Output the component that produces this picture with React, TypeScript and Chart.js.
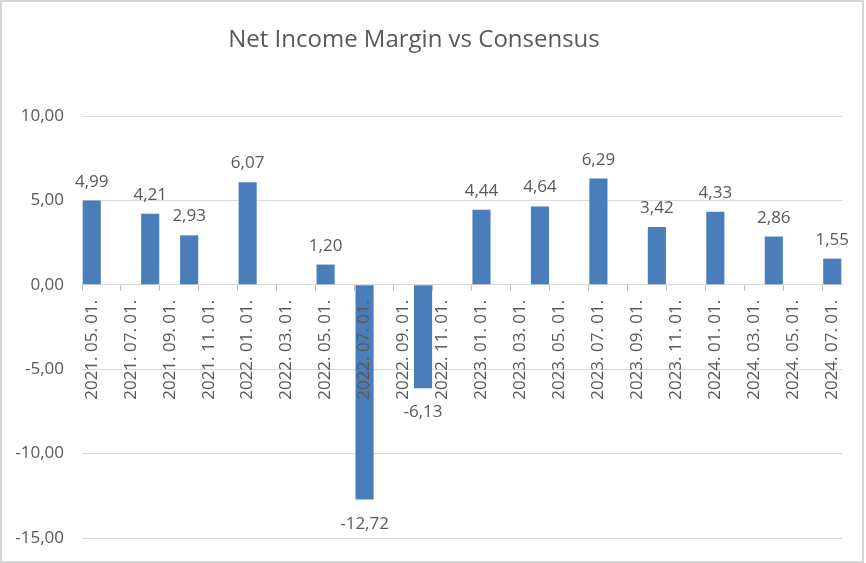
import React, { useEffect, useRef } from 'react';
import { Chart, registerables } from 'chart.js';

Chart.register(...registerables);

const chartTitle = 'Net Income Margin vs Consensus';

const months = [
  '2021. 05. 01.', '2021. 06. 01.', '2021. 07. 01.', '2021. 08. 01.', '2021. 09. 01.', '2021. 10. 01.',
  '2021. 11. 01.', '2021. 12. 01.', '2022. 01. 01.', '2022. 02. 01.', '2022. 03. 01.', '2022. 04. 01.',
  '2022. 05. 01.', '2022. 06. 01.', '2022. 07. 01.', '2022. 08. 01.', '2022. 09. 01.', '2022. 10. 01.',
  '2022. 11. 01.', '2022. 12. 01.', '2023. 01. 01.', '2023. 02. 01.', '2023. 03. 01.', '2023. 04. 01.',
  '2023. 05. 01.', '2023. 06. 01.', '2023. 07. 01.', '2023. 08. 01.', '2023. 09. 01.', '2023. 10. 01.',
  '2023. 11. 01.', '2023. 12. 01.', '2024. 01. 01.', '2024. 02. 01.', '2024. 03. 01.', '2024. 04. 01.',
  '2024. 05. 01.', '2024. 06. 01.', '2024. 07. 01.',
];

const margin: (number | null)[] = [
  4.99, null, null, 4.21, null, 2.93,
  null, null, 6.07, null, null, null,
  1.20, null, -12.72, null, null, -6.13,
  null, null, 4.44, null, null, 4.64,
  null, null, 6.29, null, null, 3.42,
  null, null, 4.33, null, null, 2.86,
  null, null, 1.55,
];

const yMin = -15;
const yMax = 10;
const yStep = 5;

const FONT = "'Open Sans', 'DejaVu Sans', sans-serif";
const TEXT = '#595959';
const GRID = '#d9d9d9';
const BAR = '#4a7ebb';

const fmt = (v: number) => v.toFixed(2).replace('.', ',');

export default function App() {
  const ref = useRef<HTMLCanvasElement | null>(null);

  useEffect(() => {
    if (!ref.current) return;

    const framePlugin = {
      id: 'frame',
      beforeDraw(chart: any) {
        const { ctx, width, height } = chart;
        ctx.save();
        ctx.fillStyle = '#ffffff';
        ctx.fillRect(0, 0, width, height);
        ctx.strokeStyle = '#d6d6d6';
        ctx.lineWidth = 2;
        ctx.strokeRect(1, 1, 862, 561);
        ctx.fillStyle = TEXT;
        ctx.font = `24px ${FONT}`;
        ctx.textAlign = 'center';
        ctx.textBaseline = 'alphabetic';
        ctx.fillText(chartTitle, 414, 47);
        ctx.restore();
      },
    };

    const labelPlugin = {
      id: 'valueLabels',
      afterDraw(chart: any) {
        const { ctx } = chart;
        const meta = chart.getDatasetMeta(0);
        ctx.save();
        ctx.fillStyle = TEXT;
        ctx.font = `17px ${FONT}`;
        ctx.textAlign = 'center';
        ctx.textBaseline = 'alphabetic';
        meta.data.forEach((bar: any, i: number) => {
          const v = margin[i];
          if (v === null || v === undefined) return;
          if (v >= 0) {
            ctx.fillText(fmt(v), bar.x, bar.y - 14);
          } else {
            ctx.fillText(fmt(v), bar.x, bar.y + 29);
          }
        });
        ctx.restore();
      },
    };

    const chart = new Chart(ref.current, {
      type: 'bar',
      data: {
        labels: months,
        datasets: [
          {
            label: 'Net Income Margin',
            data: margin,
            backgroundColor: BAR,
            borderWidth: 0,
            barPercentage: 0.93,
            categoryPercentage: 1,
          },
        ],
      },
      options: {
        animation: false,
        responsive: false,
        devicePixelRatio: 1,
        layout: { padding: { top: 116, left: 0, right: 24, bottom: 25 } },
        plugins: {
          legend: { display: false },
          title: { display: false },
          tooltip: { enabled: false },
        },
        scales: {
          y: {
            min: yMin,
            max: yMax,
            afterFit(scale: any) {
              scale.width = 82;
              scale.paddingTop = 0;
              scale.paddingBottom = 0;
            },
            ticks: {
              stepSize: yStep,
              color: TEXT,
              font: { family: FONT, size: 17 },
              padding: 18,
              callback: (v: any) => fmt(Number(v)),
            },
            grid: { color: GRID, lineWidth: 1, drawTicks: false },
            border: { display: false },
          },
          x: {
            position: { y: 0 } as any,
            offset: true,
            ticks: {
              z: 1,
              autoSkip: false,
              maxRotation: 90,
              minRotation: 90,
              color: TEXT,
              font: { family: FONT, size: 17 },
              padding: 9,
              callback: (_v: any, i: number) => (i % 2 === 0 ? months[i] : ''),
            },
            grid: {
              offset: true,
              drawOnChartArea: false,
              drawTicks: true,
              tickLength: 6,
              color: (c: any) => (c.index % 2 === 0 ? '#bfbfbf' : 'rgba(0,0,0,0)'),
            },
            border: { display: true, color: GRID },
          },
        },
      },
      plugins: [framePlugin, labelPlugin],
    } as any);

    return () => chart.destroy();
  }, []);

  return (
    <div style={{ position: 'fixed', left: 0, top: 0, width: 866, height: 563, background: '#fff' }}>
      <canvas ref={ref} width={866} height={563} style={{ display: 'block', width: 866, height: 563 }} />
    </div>
  );
}
